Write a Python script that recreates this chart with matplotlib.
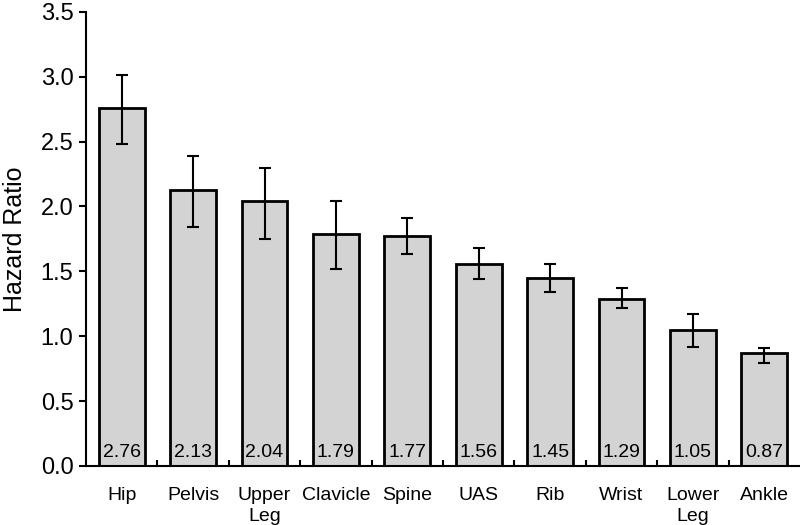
import numpy as np
import matplotlib.pyplot as plt
from matplotlib.ticker import FixedLocator, MultipleLocator

plt.rcParams['font.family'] = ['Liberation Sans', 'DejaVu Sans']

# data
sites = ['Hip', 'Pelvis', 'Upper\nLeg', 'Clavicle', 'Spine', 'UAS', 'Rib', 'Wrist', 'Lower\nLeg', 'Ankle']
hr = [2.76, 2.13, 2.04, 1.79, 1.77, 1.56, 1.45, 1.29, 1.05, 0.87]
ci_low = [2.48, 1.84, 1.75, 1.52, 1.63, 1.44, 1.34, 1.22, 0.915, 0.79]
ci_high = [3.01, 2.39, 2.30, 2.04, 1.91, 1.68, 1.56, 1.37, 1.17, 0.91]

hr = np.array(hr)
yerr = [hr - np.array(ci_low), np.array(ci_high) - hr]
x = np.arange(len(sites))

fig = plt.figure(figsize=(8, 5.25), dpi=100)
ax = fig.add_axes([0.1075, 0.1124, 0.8925, 0.865])

ax.bar(x, hr, width=0.64, color='#d3d3d3', edgecolor='black', linewidth=2, zorder=2)
ax.errorbar(x, hr, yerr=yerr, fmt='none', ecolor='black', elinewidth=1.5,
            capsize=4, capthick=1.5, zorder=3)

for xi, v in zip(x, hr):
    ax.text(xi, 0.04, f'{v:.2f}', ha='center', va='bottom', fontsize=14, zorder=4)

ax.set_xlim(-0.5, len(sites) - 0.5)
ax.set_ylim(0, 3.5)
ax.yaxis.set_major_locator(MultipleLocator(0.5))
ax.set_yticklabels([f'{t:.1f}' for t in ax.get_yticks()])

ax.set_xticks(x)
ax.set_xticklabels(sites, fontsize=14, linespacing=1.35)
ax.tick_params(axis='x', which='major', length=0, pad=15)
ax.xaxis.set_minor_locator(FixedLocator(np.arange(0.5, len(sites) - 0.5, 1)))
ax.tick_params(axis='x', which='minor', direction='in', length=4, width=1.5)
ax.tick_params(axis='y', direction='out', length=5, width=1.5, labelsize=17, pad=4)

ax.set_ylabel('Hazard Ratio', fontsize=18, labelpad=10)

for s in ['top', 'right']:
    ax.spines[s].set_visible(False)
for s in ['left', 'bottom']:
    ax.spines[s].set_linewidth(1.5)

fig.savefig('out.png', dpi=100)
